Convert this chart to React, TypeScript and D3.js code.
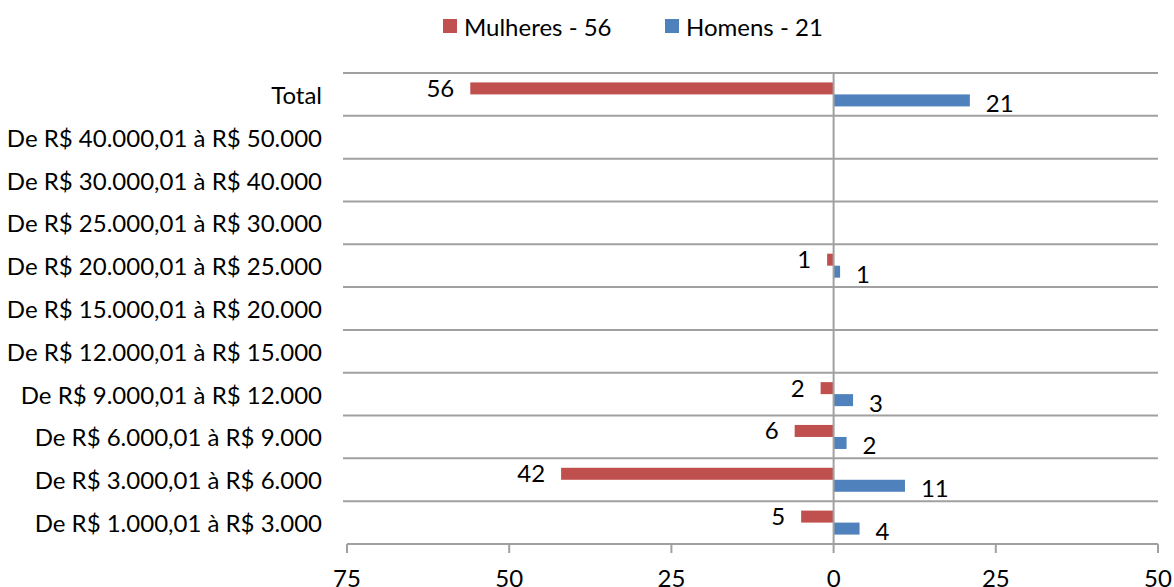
import React from "react";
import * as d3 from "d3";

const categories = [
  "Total",
  "De R$ 40.000,01 à R$ 50.000",
  "De R$ 30.000,01 à R$ 40.000",
  "De R$ 25.000,01 à R$ 30.000",
  "De R$ 20.000,01 à R$ 25.000",
  "De R$ 15.000,01 à R$ 20.000",
  "De R$ 12.000,01 à R$ 15.000",
  "De R$ 9.000,01 à R$ 12.000",
  "De R$ 6.000,01 à R$ 9.000",
  "De R$ 3.000,01 à R$ 6.000",
  "De R$ 1.000,01 à R$ 3.000",
];
const mulheres = [56, 0, 0, 0, 1, 0, 0, 2, 6, 42, 5];
const homens = [21, 0, 0, 0, 1, 0, 0, 3, 2, 11, 4];
const xTicks = [-75, -50, -25, 0, 25, 50];
const legendLabels = ["Mulheres - 56", "Homens - 21"];

const RED = "#C0504D";
const BLUE = "#4F81BD";
const GRID = "#A0A0A0";
const FONT = "Lato, 'Open Sans', sans-serif";
const FS = 24;

export default function App() {
  const W = 1174;
  const H = 587;
  const left = 347;
  const right = 1158;
  const top = 73;
  const bottom = 544;

  const x = d3.scaleLinear().domain([-75, 50]).range([left, right]);
  const y = d3.scaleBand().domain(categories).range([top, bottom]);
  const bw = y.bandwidth();
  const barH = 12;

  return (
    <svg
      width={W}
      height={H}
      style={{ position: "absolute", left: 0, top: 0 }}
      fontFamily={FONT}
    >
      <rect width={W} height={H} fill="#fff" />
      {/* legend */}
      <g>
        <rect x={443} y={19} width={14} height={14} fill={RED} />
        <text x={464} y={26} fontSize={FS} dominantBaseline="central">
          {legendLabels[0]}
        </text>
        <rect x={665} y={19} width={14} height={14} fill={BLUE} />
        <text x={686} y={26} fontSize={FS} dominantBaseline="central">
          {legendLabels[1]}
        </text>
      </g>
      {/* grid lines */}
      {categories.map((c, i) => (
        <line
          key={"g" + i}
          x1={left - 4}
          x2={right}
          y1={y(c)!}
          y2={y(c)!}
          stroke={GRID}
          strokeWidth={2}
        />
      ))}
      {/* bars */}
      {categories.map((c, i) => {
        const cy = y(c)! + bw / 2;
        return (
          <g key={"b" + i}>
            {mulheres[i] > 0 && (
              <>
                <rect
                  x={x(-mulheres[i])}
                  y={cy - barH}
                  width={x(0) - x(-mulheres[i])}
                  height={barH}
                  fill={RED}
                />
                <text
                  x={x(-mulheres[i]) - 16}
                  y={cy - barH / 2 - 1}
                  fontSize={FS}
                  textAnchor="end"
                  dominantBaseline="central"
                >
                  {mulheres[i]}
                </text>
              </>
            )}
            {homens[i] > 0 && (
              <>
                <rect
                  x={x(0)}
                  y={cy}
                  width={x(homens[i]) - x(0)}
                  height={barH}
                  fill={BLUE}
                />
                <text
                  x={x(homens[i]) + 16}
                  y={cy + barH / 2 + 2}
                  fontSize={FS}
                  textAnchor="start"
                  dominantBaseline="central"
                >
                  {homens[i]}
                </text>
              </>
            )}
          </g>
        );
      })}
      {/* zero axis */}
      <line x1={x(0)} x2={x(0)} y1={top} y2={bottom} stroke={GRID} strokeWidth={2} />
      {/* bottom axis */}
      <line x1={left} x2={right} y1={bottom} y2={bottom} stroke={GRID} strokeWidth={2} />
      {xTicks.map((t, i) => (
        <g key={"t" + i}>
          <line
            x1={x(t)}
            x2={x(t)}
            y1={bottom}
            y2={bottom + 9}
            stroke={GRID}
            strokeWidth={2}
          />
          <text
            x={x(t)}
            y={bottom + 33}
            fontSize={FS}
            textAnchor="middle"
            dominantBaseline="central"
          >
            {Math.abs(t)}
          </text>
        </g>
      ))}
      {/* category labels */}
      {categories.map((c, i) => (
        <text
          key={"c" + i}
          x={322}
          y={y(c)! + bw / 2}
          fontSize={FS}
          textAnchor="end"
          dominantBaseline="central"
        >
          {c}
        </text>
      ))}
    </svg>
  );
}
